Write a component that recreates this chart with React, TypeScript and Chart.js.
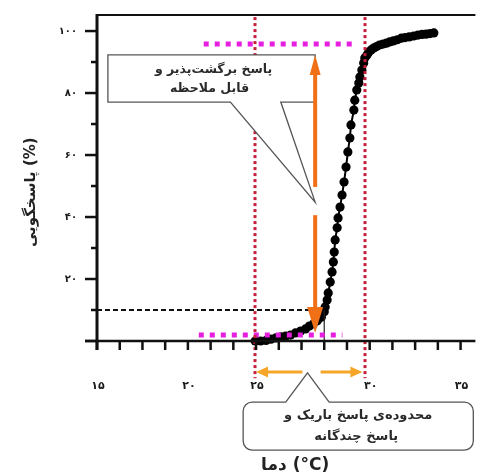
import React, { useEffect, useRef } from "react";
import { Chart, registerables } from "chart.js";

Chart.register(...registerables);

// ---- data (temperature °C, response %) ----
const temperatures = [
  23.7, 24.0, 24.3, 24.57, 24.84, 25.11, 25.38, 25.65, 25.92, 26.2, 26.47, 26.68, 26.9, 27.12,
  27.34, 27.5, 27.55, 27.66, 27.72, 27.83, 27.93, 28.0, 28.05, 28.1, 28.21, 28.26, 28.37, 28.48,
  28.59, 28.7, 28.8, 28.91, 28.97, 29.13, 29.18, 29.29, 29.4, 29.46, 29.57, 29.67, 29.73, 29.85,
  29.95, 30.08, 30.22, 30.38, 30.54, 30.73, 30.92, 31.1, 31.3, 31.52, 31.74, 31.95, 32.17, 32.42,
  32.66, 32.88, 33.1, 33.32, 33.53,
];
const responses = [
  0.0, 0.0, 0.2, 0.6, 1.0, 1.3, 1.6, 1.9, 2.6, 3.2, 3.9, 4.8, 5.5, 6.5,
  7.7, 9.4, 11.0, 13.2, 15.5, 19.0, 22.3, 25.5, 28.7, 32.6, 36.5, 39.7, 43.2, 47.1,
  51.3, 56.1, 61.0, 65.5, 69.7, 74.5, 77.7, 81.0, 83.2, 85.2, 87.4, 89.7, 91.3, 92.3,
  93.2, 93.9, 94.5, 95.0, 95.5, 95.8, 96.1, 96.5, 96.8, 97.2, 97.7, 97.9, 98.1, 98.4,
  98.7, 98.9, 99.0, 99.2, 99.4,
];

const yMajorTicks = [0, 20, 40, 60, 80, 100];
const yMajorLabels = ["", "۲۰", "۴۰", "۶۰", "۸۰", "۱۰۰"];
const yMinorTicks = [10, 30, 50, 70, 90];
const xTicks = [15, 16.25, 17.5, 18.75, 20, 21.25, 22.5, 23.75, 25, 26.25, 27.5, 28.75, 30, 31.25, 32.5, 33.75, 35];
const xLabelValues = [15, 20, 23.75, 30, 35];
const xLabels = ["۱۵", "۲۰", "۲۵", "۳۰", "۳۵"];

const xTitle = "دما (°C)";
const yTitle = "پاسخگویی (%)";
const note1 = ["پاسخ برگشت\u200cپذیر و", "قابل ملاحظه"];
const note2 = ["محدوده\u200cی پاسخ باریک و", "پاسخ چندگانه"];

// annotation values in data units
const rangeStart = 23.7;
const rangeEnd = 29.73;
const plateauHigh = 95.8;
const plateauHighFrom = 20.87;
const plateauHighTo = 29.18;
const plateauLow = 1.9;
const plateauLowFrom = 20.6;
const plateauLowTo = 28.5;
const thresholdResponse = 10;
const thresholdTemp = 27.5;
const swingTemp = 27.0;

const X_MIN = 15;
const X_MAX = 35.815;
const Y_MIN = 0;
const Y_MAX = 105.5;

function line(ctx: CanvasRenderingContext2D, x1: number, y1: number, x2: number, y2: number, color: string, width: number, dash: number[] = []) {
  ctx.save();
  ctx.strokeStyle = color;
  ctx.lineWidth = width;
  ctx.setLineDash(dash);
  ctx.lineCap = "butt";
  ctx.beginPath();
  ctx.moveTo(x1, y1);
  ctx.lineTo(x2, y2);
  ctx.stroke();
  ctx.restore();
}

function arrowHead(ctx: CanvasRenderingContext2D, tx: number, ty: number, dx: number, dy: number, len: number, hw: number, color: string) {
  const bx = tx - dx * len;
  const by = ty - dy * len;
  const nx = -dy;
  const ny = dx;
  ctx.save();
  ctx.fillStyle = color;
  ctx.beginPath();
  ctx.moveTo(tx, ty);
  ctx.lineTo(bx + nx * hw, by + ny * hw);
  ctx.lineTo(bx - nx * hw, by - ny * hw);
  ctx.closePath();
  ctx.fill();
  ctx.restore();
}

const overlayPlugin = {
  id: "overlay",
  beforeDraw(chart: any) {
    const ctx = chart.ctx;
    ctx.save();
    ctx.fillStyle = "#ffffff";
    ctx.fillRect(0, 0, chart.width, chart.height);
    ctx.restore();
  },
  afterDatasetsDraw(chart: any) {
    const ctx: CanvasRenderingContext2D = chart.ctx;
    const xs = chart.scales.x;
    const ys = chart.scales.y;
    const X = (v: number) => xs.getPixelForValue(v);
    const Y = (v: number) => ys.getPixelForValue(v);
    const area = chart.chartArea;

    // black dashed threshold
    line(ctx, X(X_MIN), Y(thresholdResponse), X(thresholdTemp) - 6, Y(thresholdResponse), "#111", 2, [5, 3]);
    line(ctx, X(thresholdTemp), Y(thresholdResponse), X(thresholdTemp), Y(0), "#222", 1.2);

    // magenta plateaus
    line(ctx, X(plateauHighFrom), Y(plateauHigh), X(plateauHighTo), Y(plateauHigh), "#e61ee0", 5, [5, 6]);
    line(ctx, X(plateauLowFrom), Y(plateauLow), X(plateauLowTo), Y(plateauLow), "#e61ee0", 5, [5, 6]);

    // red dotted verticals
    const rx1 = Math.round(X(rangeStart));
    const rx2 = Math.round(X(rangeEnd));
    line(ctx, rx1, Y(104.5), rx1, Y(-12), "#c41e3a", 3, [3, 3]);
    line(ctx, rx2, Y(104.5), rx2, Y(-12), "#c41e3a", 3, [3, 3]);

    // callout 1 (rectangle with pointer)
    {
      const x1 = X(15.6), x2 = X(27.0), y1 = Y(92.3), y2 = Y(77.1);
      const b1 = X(22.34), b2 = X(25.11);
      const tx = X(27.0), ty = Y(44.8);
      ctx.save();
      ctx.beginPath();
      ctx.moveTo(x1, y1);
      ctx.lineTo(x2, y1);
      ctx.lineTo(x2, y2);
      ctx.lineTo(b2, y2);
      ctx.lineTo(tx, ty);
      ctx.lineTo(b1, y2);
      ctx.lineTo(x1, y2);
      ctx.closePath();
      ctx.fillStyle = "#ffffff";
      ctx.fill();
      ctx.strokeStyle = "#555";
      ctx.lineWidth = 1.3;
      ctx.stroke();
      ctx.fillStyle = "#2a2a2a";
      ctx.font = "bold 12.5px 'DejaVu Sans'";
      ctx.textAlign = "center";
      ctx.textBaseline = "middle";
      (ctx as any).direction = "rtl";
      ctx.fillText(note1[0], (x1 + x2) / 2 + 2, y1 + 15);
      ctx.fillText(note1[1], (x1 + x2) / 2 - 2, y1 + 34);
      ctx.restore();
    }

    // callout 2 (rounded with pointer on top)
    {
      const x1 = X(23.04), x2 = X(35.7), y1 = Y(-19.7), y2 = Y(-35.2);
      const b1 = X(25.38), b2 = X(27.77);
      const tx = X(26.58), ty = Y(-10.3);
      const r = 9;
      ctx.save();
      ctx.beginPath();
      ctx.moveTo(x1 + r, y1);
      ctx.lineTo(b1, y1);
      ctx.lineTo(tx, ty);
      ctx.lineTo(b2, y1);
      ctx.lineTo(x2 - r, y1);
      ctx.arcTo(x2, y1, x2, y1 + r, r);
      ctx.lineTo(x2, y2 - r);
      ctx.arcTo(x2, y2, x2 - r, y2, r);
      ctx.lineTo(x1 + r, y2);
      ctx.arcTo(x1, y2, x1, y2 - r, r);
      ctx.lineTo(x1, y1 + r);
      ctx.arcTo(x1, y1, x1 + r, y1, r);
      ctx.closePath();
      ctx.fillStyle = "#ffffff";
      ctx.fill();
      ctx.strokeStyle = "#555";
      ctx.lineWidth = 1.3;
      ctx.stroke();
      ctx.fillStyle = "#2a2a2a";
      ctx.font = "bold 13px 'DejaVu Sans'";
      ctx.textAlign = "center";
      ctx.textBaseline = "middle";
      (ctx as any).direction = "rtl";
      ctx.fillText(note2[0], (x1 + x2) / 2, y1 + 14);
      ctx.fillText(note2[1], (x1 + x2) / 2 - 2, y1 + 35);
      ctx.restore();
    }

    // orange vertical arrows
    {
      const ax = X(swingTemp);
      const orange = "#f07018";
      line(ctx, ax, Y(49.7), ax, Y(92.3) + 16, orange, 4);
      arrowHead(ctx, ax, Y(92.3), 0, -1, 20, 5.5, orange);
      line(ctx, ax, Y(40.6), ax, Y(2.6) - 20, orange, 4);
      arrowHead(ctx, ax, Y(2.6), 0, 1, 26, 8, orange);
    }

    // orange horizontal arrows below axis
    {
      const ay = Y(-10);
      const o2 = "#f5a628";
      line(ctx, X(26.3), ay, X(23.75) + 8, ay, o2, 3);
      arrowHead(ctx, X(23.75), ay, -1, 0, 12, 5.5, o2);
      line(ctx, X(27.3), ay, X(29.6) - 8, ay, o2, 3);
      arrowHead(ctx, X(29.6), ay, 1, 0, 12, 5.5, o2);
    }

    // axes
    const y0 = Y(0);
    const xl = X(X_MIN);
    line(ctx, xl, area.top + 1, area.right, area.top + 1, "#111", 2.2);
    line(ctx, xl, area.top, xl, y0 + 9, "#111", 3);
    line(ctx, xl - 12, y0, area.right, y0, "#111", 2.6);
    yMajorTicks.forEach((v) => line(ctx, xl - 12, Y(v), xl, Y(v), "#111", 2.5));
    yMinorTicks.forEach((v) => line(ctx, xl - 6, Y(v), xl, Y(v), "#111", 2.5));
    xTicks.forEach((v) => line(ctx, X(v), y0, X(v), y0 + 9, "#111", 2.5));

    ctx.save();
    ctx.fillStyle = "#1a1a1a";
    ctx.font = "bold 10px 'DejaVu Sans'";
    ctx.textAlign = "right";
    ctx.textBaseline = "middle";
    yMajorTicks.forEach((v, i) => {
      if (yMajorLabels[i]) ctx.fillText(yMajorLabels[i], xl - 20, Y(v));
    });
    ctx.font = "bold 11px 'DejaVu Sans'";
    ctx.textAlign = "center";
    xLabelValues.forEach((v, i) => ctx.fillText(xLabels[i], X(v) + 1, y0 + 45));

    // titles
    ctx.font = "bold 17px 'DejaVu Sans'";
    ctx.fillStyle = "#222";
    ctx.fillText(xTitle, X(25.9), y0 + 125);
    ctx.translate(31, Y(48));
    ctx.rotate(-Math.PI / 2);
    ctx.font = "bold 15px 'DejaVu Sans'";
    ctx.fillText(yTitle, 0, 0);
    ctx.restore();
  },
};

export default function App() {
  const ref = useRef<HTMLCanvasElement | null>(null);
  useEffect(() => {
    if (!ref.current) return;
    const chart = new Chart(ref.current, {
      type: "line",
      data: {
        datasets: [
          {
            data: temperatures.map((t, i) => ({ x: t, y: responses[i] })),
            borderColor: "#000",
            borderWidth: 2,
            backgroundColor: "#000",
            pointRadius: 4.6,
            pointBackgroundColor: "#000",
            pointBorderWidth: 0,
            tension: 0,
            fill: false,
            clip: false as any,
          },
        ],
      },
      options: {
        responsive: false,
        animation: false,
        devicePixelRatio: 1,
        layout: { padding: { left: 97, top: 14, right: 0, bottom: 132 } },
        scales: {
          x: { type: "linear", min: X_MIN, max: X_MAX, display: false },
          y: { type: "linear", min: Y_MIN, max: Y_MAX, display: false },
        },
        plugins: { legend: { display: false }, tooltip: { enabled: false } },
      },
      plugins: [overlayPlugin],
    });
    return () => chart.destroy();
  }, []);
  return (
    <div style={{ position: "fixed", left: 0, top: 0, width: 480, height: 473, overflow: "hidden", background: "#fff" }}>
      <canvas ref={ref} width={480} height={473} style={{ display: "block" }} />
    </div>
  );
}
